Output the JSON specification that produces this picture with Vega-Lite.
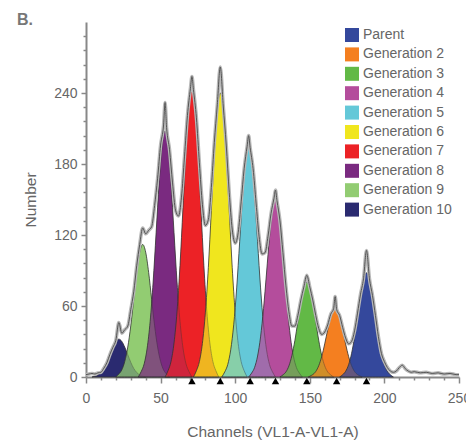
{
"$schema":"https://vega.github.io/schema/vega-lite/v6.json",
"width":373,"height":355,
"autosize":{"type":"none"},
"padding":{"left":86,"top":22,"right":7,"bottom":67},
"background":"white",
"title":{"text":"B.","anchor":"start","frame":"group","dx":-69,"offset":-19,"baseline":"alphabetic","fontSize":16,"fontWeight":"bold","color":"#777","font":"Liberation Sans"},
"datasets":{
"peaks":[
{"gen":"Generation 10","x":4,"y":0},{"gen":"Generation 10","x":6,"y":0.7},{"gen":"Generation 10","x":8,"y":1.7},{"gen":"Generation 10","x":10,"y":3.8},{"gen":"Generation 10","x":12,"y":7.2},{"gen":"Generation 10","x":14,"y":12.4},{"gen":"Generation 10","x":16,"y":18.8},{"gen":"Generation 10","x":18,"y":25.2},{"gen":"Generation 10","x":20,"y":30.1},{"gen":"Generation 10","x":22,"y":32},{"gen":"Generation 10","x":24,"y":30.1},{"gen":"Generation 10","x":26,"y":25.2},{"gen":"Generation 10","x":28,"y":18.8},{"gen":"Generation 10","x":30,"y":12.4},{"gen":"Generation 10","x":32,"y":7.2},{"gen":"Generation 10","x":34,"y":3.8},{"gen":"Generation 10","x":36,"y":1.7},{"gen":"Generation 10","x":38,"y":0.7},{"gen":"Generation 10","x":40,"y":0},
{"gen":"Generation 9","x":20,"y":0},{"gen":"Generation 9","x":22,"y":2.5},{"gen":"Generation 9","x":24,"y":6},{"gen":"Generation 9","x":26,"y":13.2},{"gen":"Generation 9","x":28,"y":25.3},{"gen":"Generation 9","x":30,"y":43.2},{"gen":"Generation 9","x":32,"y":65.6},{"gen":"Generation 9","x":34,"y":88.3},{"gen":"Generation 9","x":36,"y":105.5},{"gen":"Generation 9","x":38,"y":112},{"gen":"Generation 9","x":40,"y":105.5},{"gen":"Generation 9","x":42,"y":88.3},{"gen":"Generation 9","x":44,"y":65.6},{"gen":"Generation 9","x":46,"y":43.2},{"gen":"Generation 9","x":48,"y":25.3},{"gen":"Generation 9","x":50,"y":13.2},{"gen":"Generation 9","x":52,"y":6},{"gen":"Generation 9","x":54,"y":2.5},{"gen":"Generation 9","x":56,"y":0},
{"gen":"Generation 8","x":35,"y":0},{"gen":"Generation 8","x":37,"y":4.6},{"gen":"Generation 8","x":39,"y":11.2},{"gen":"Generation 8","x":41,"y":24.5},{"gen":"Generation 8","x":43,"y":47},{"gen":"Generation 8","x":45,"y":80.3},{"gen":"Generation 8","x":47,"y":121.9},{"gen":"Generation 8","x":49,"y":163.9},{"gen":"Generation 8","x":51,"y":195.9},{"gen":"Generation 8","x":53,"y":208},{"gen":"Generation 8","x":55,"y":195.9},{"gen":"Generation 8","x":57,"y":163.9},{"gen":"Generation 8","x":59,"y":121.9},{"gen":"Generation 8","x":61,"y":80.3},{"gen":"Generation 8","x":63,"y":47},{"gen":"Generation 8","x":65,"y":24.5},{"gen":"Generation 8","x":67,"y":11.2},{"gen":"Generation 8","x":69,"y":4.6},{"gen":"Generation 8","x":71,"y":0},
{"gen":"Generation 7","x":53,"y":0},{"gen":"Generation 7","x":55,"y":5.4},{"gen":"Generation 7","x":57,"y":13.2},{"gen":"Generation 7","x":59,"y":28.8},{"gen":"Generation 7","x":61,"y":55.1},{"gen":"Generation 7","x":63,"y":94.2},{"gen":"Generation 7","x":65,"y":143},{"gen":"Generation 7","x":67,"y":192.3},{"gen":"Generation 7","x":69,"y":229.8},{"gen":"Generation 7","x":71,"y":244},{"gen":"Generation 7","x":73,"y":229.8},{"gen":"Generation 7","x":75,"y":192.3},{"gen":"Generation 7","x":77,"y":143},{"gen":"Generation 7","x":79,"y":94.2},{"gen":"Generation 7","x":81,"y":55.1},{"gen":"Generation 7","x":83,"y":28.8},{"gen":"Generation 7","x":85,"y":13.2},{"gen":"Generation 7","x":87,"y":5.4},{"gen":"Generation 7","x":89,"y":0},
{"gen":"Generation 6","x":72,"y":0},{"gen":"Generation 6","x":74,"y":5.3},{"gen":"Generation 6","x":76,"y":13},{"gen":"Generation 6","x":78,"y":28.3},{"gen":"Generation 6","x":80,"y":54.2},{"gen":"Generation 6","x":82,"y":92.6},{"gen":"Generation 6","x":84,"y":140.6},{"gen":"Generation 6","x":86,"y":189.1},{"gen":"Generation 6","x":88,"y":226.1},{"gen":"Generation 6","x":90,"y":240},{"gen":"Generation 6","x":92,"y":226.1},{"gen":"Generation 6","x":94,"y":189.1},{"gen":"Generation 6","x":96,"y":140.6},{"gen":"Generation 6","x":98,"y":92.6},{"gen":"Generation 6","x":100,"y":54.2},{"gen":"Generation 6","x":102,"y":28.3},{"gen":"Generation 6","x":104,"y":13},{"gen":"Generation 6","x":106,"y":5.3},{"gen":"Generation 6","x":108,"y":0},
{"gen":"Generation 5","x":91,"y":0},{"gen":"Generation 5","x":93,"y":4.3},{"gen":"Generation 5","x":95,"y":10.5},{"gen":"Generation 5","x":97,"y":23},{"gen":"Generation 5","x":99,"y":44.1},{"gen":"Generation 5","x":101,"y":75.3},{"gen":"Generation 5","x":103,"y":114.3},{"gen":"Generation 5","x":105,"y":153.7},{"gen":"Generation 5","x":107,"y":183.7},{"gen":"Generation 5","x":109,"y":195},{"gen":"Generation 5","x":111,"y":183.7},{"gen":"Generation 5","x":113,"y":153.7},{"gen":"Generation 5","x":115,"y":114.3},{"gen":"Generation 5","x":117,"y":75.3},{"gen":"Generation 5","x":119,"y":44.1},{"gen":"Generation 5","x":121,"y":23},{"gen":"Generation 5","x":123,"y":10.5},{"gen":"Generation 5","x":125,"y":4.3},{"gen":"Generation 5","x":127,"y":0},
{"gen":"Generation 4","x":109,"y":0},{"gen":"Generation 4","x":111,"y":3.3},{"gen":"Generation 4","x":113,"y":8.1},{"gen":"Generation 4","x":115,"y":17.7},{"gen":"Generation 4","x":117,"y":33.9},{"gen":"Generation 4","x":119,"y":57.9},{"gen":"Generation 4","x":121,"y":87.9},{"gen":"Generation 4","x":123,"y":118.2},{"gen":"Generation 4","x":125,"y":141.3},{"gen":"Generation 4","x":127,"y":150},{"gen":"Generation 4","x":129,"y":141.3},{"gen":"Generation 4","x":131,"y":118.2},{"gen":"Generation 4","x":133,"y":87.9},{"gen":"Generation 4","x":135,"y":57.9},{"gen":"Generation 4","x":137,"y":33.9},{"gen":"Generation 4","x":139,"y":17.7},{"gen":"Generation 4","x":141,"y":8.1},{"gen":"Generation 4","x":143,"y":3.3},{"gen":"Generation 4","x":145,"y":0},
{"gen":"Generation 3","x":130,"y":0},{"gen":"Generation 3","x":132,"y":1.8},{"gen":"Generation 3","x":134,"y":4.3},{"gen":"Generation 3","x":136,"y":9.4},{"gen":"Generation 3","x":138,"y":18.1},{"gen":"Generation 3","x":140,"y":30.9},{"gen":"Generation 3","x":142,"y":46.9},{"gen":"Generation 3","x":144,"y":63},{"gen":"Generation 3","x":146,"y":75.4},{"gen":"Generation 3","x":148,"y":80},{"gen":"Generation 3","x":150,"y":75.4},{"gen":"Generation 3","x":152,"y":63},{"gen":"Generation 3","x":154,"y":46.9},{"gen":"Generation 3","x":156,"y":30.9},{"gen":"Generation 3","x":158,"y":18.1},{"gen":"Generation 3","x":160,"y":9.4},{"gen":"Generation 3","x":162,"y":4.3},{"gen":"Generation 3","x":164,"y":1.8},{"gen":"Generation 3","x":166,"y":0},
{"gen":"Generation 2","x":149,"y":0},{"gen":"Generation 2","x":151,"y":1.3},{"gen":"Generation 2","x":153,"y":3.1},{"gen":"Generation 2","x":155,"y":6.8},{"gen":"Generation 2","x":157,"y":13.1},{"gen":"Generation 2","x":159,"y":22.4},{"gen":"Generation 2","x":161,"y":34},{"gen":"Generation 2","x":163,"y":45.7},{"gen":"Generation 2","x":165,"y":54.6},{"gen":"Generation 2","x":167,"y":58},{"gen":"Generation 2","x":169,"y":54.6},{"gen":"Generation 2","x":171,"y":45.7},{"gen":"Generation 2","x":173,"y":34},{"gen":"Generation 2","x":175,"y":22.4},{"gen":"Generation 2","x":177,"y":13.1},{"gen":"Generation 2","x":179,"y":6.8},{"gen":"Generation 2","x":181,"y":3.1},{"gen":"Generation 2","x":183,"y":1.3},{"gen":"Generation 2","x":185,"y":0},
{"gen":"Parent","x":170,"y":0},{"gen":"Parent","x":172,"y":1.9},{"gen":"Parent","x":174,"y":4.8},{"gen":"Parent","x":176,"y":10.4},{"gen":"Parent","x":178,"y":19.9},{"gen":"Parent","x":180,"y":34},{"gen":"Parent","x":182,"y":51.6},{"gen":"Parent","x":184,"y":69.3},{"gen":"Parent","x":186,"y":82.9},{"gen":"Parent","x":188,"y":88},{"gen":"Parent","x":190,"y":82.9},{"gen":"Parent","x":192,"y":69.3},{"gen":"Parent","x":194,"y":51.6},{"gen":"Parent","x":196,"y":34},{"gen":"Parent","x":198,"y":19.9},{"gen":"Parent","x":200,"y":10.4},{"gen":"Parent","x":202,"y":4.8},{"gen":"Parent","x":204,"y":1.9},{"gen":"Parent","x":206,"y":0}
],
"total":[
{"x":0,"y":2},{"x":2,"y":2.5},{"x":4,"y":3},{"x":6,"y":2.5},{"x":8,"y":3.5},{"x":10,"y":4},{"x":12,"y":7.5},{"x":14,"y":12},{"x":16,"y":19},{"x":18,"y":25},{"x":20,"y":31},{"x":22,"y":46},{"x":24,"y":37},{"x":26,"y":40},{"x":28,"y":43},{"x":30,"y":57},{"x":32,"y":72},{"x":34,"y":94},{"x":36,"y":112},{"x":38,"y":126},{"x":40,"y":121},{"x":42,"y":124},{"x":44,"y":127},{"x":46,"y":145},{"x":48,"y":168},{"x":50,"y":196},{"x":52,"y":213},{"x":53,"y":232},{"x":54,"y":211},{"x":56,"y":192},{"x":58,"y":164},{"x":60,"y":141},{"x":62,"y":136},{"x":64,"y":152},{"x":66,"y":186},{"x":68,"y":221},{"x":70,"y":244},{"x":71,"y":254},{"x":72,"y":243},{"x":74,"y":219},{"x":76,"y":181},{"x":78,"y":146},{"x":80,"y":128},{"x":82,"y":133},{"x":84,"y":160},{"x":86,"y":198},{"x":88,"y":230},{"x":90,"y":262},{"x":92,"y":229},{"x":94,"y":196},{"x":96,"y":156},{"x":98,"y":125},{"x":100,"y":113},{"x":102,"y":122},{"x":104,"y":148},{"x":106,"y":176},{"x":108,"y":195},{"x":109,"y":204},{"x":110,"y":194},{"x":112,"y":176},{"x":114,"y":147},{"x":116,"y":119},{"x":118,"y":104},{"x":120,"y":105},{"x":122,"y":119},{"x":124,"y":138},{"x":126,"y":151},{"x":127,"y":158},{"x":128,"y":149},{"x":130,"y":132},{"x":132,"y":105},{"x":134,"y":77},{"x":136,"y":55},{"x":138,"y":43},{"x":140,"y":43},{"x":142,"y":52},{"x":144,"y":65},{"x":146,"y":76},{"x":148,"y":86},{"x":150,"y":76},{"x":152,"y":65},{"x":154,"y":52},{"x":156,"y":41},{"x":158,"y":36},{"x":160,"y":38},{"x":162,"y":44},{"x":164,"y":53},{"x":166,"y":58},{"x":167,"y":68},{"x":168,"y":57},{"x":170,"y":52},{"x":172,"y":42},{"x":174,"y":33},{"x":176,"y":28},{"x":178,"y":30},{"x":180,"y":39},{"x":182,"y":54},{"x":184,"y":70},{"x":186,"y":83},{"x":188,"y":107},{"x":190,"y":83},{"x":192,"y":69},{"x":194,"y":52},{"x":196,"y":34},{"x":198,"y":20},{"x":200,"y":13},{"x":202,"y":8},{"x":204,"y":5},{"x":206,"y":4},{"x":208,"y":5},{"x":210,"y":8},{"x":212,"y":10},{"x":214,"y":7},{"x":216,"y":5},{"x":218,"y":4},{"x":220,"y":4.5},{"x":224,"y":3.5},{"x":228,"y":4},{"x":232,"y":3},{"x":236,"y":3.5},{"x":240,"y":2.5},{"x":244,"y":3},{"x":248,"y":2},{"x":250,"y":2}
],
"markers":[{"x":71},{"x":90},{"x":110},{"x":127},{"x":148},{"x":168},{"x":188}]
},
"resolve":{"axis":{"x":"independent","y":"independent"}},
"layer":[
{"data":{"name":"peaks"},
 "mark":{"type":"area","interpolate":"monotone"},
 "encoding":{
  "x":{"field":"x","type":"quantitative","scale":{"domain":[0,250],"nice":false},
   "axis":{"orient":"bottom","title":"Channels (VL1-A-VL1-A)","values":[0,50,100,150,200,250],"tickSize":6,"labelPadding":8,"titlePadding":19,"labelFlush":false}},
  "y":{"field":"y","type":"quantitative","stack":null,"scale":{"domain":[0,300],"nice":false},
   "axis":{"orient":"left","title":"Number","values":[0,60,120,180,240],"tickSize":5,"labelPadding":4,"titlePadding":15,"labelFlush":false}},
  "color":{"field":"gen","type":"nominal",
   "scale":{"domain":["Parent","Generation 2","Generation 3","Generation 4","Generation 5","Generation 6","Generation 7","Generation 8","Generation 9","Generation 10"],
    "range":["#34489c","#f47f20","#62b946","#b44d9c","#64c8d8","#f0e61e","#ec2226","#7a2a80","#92cc72","#2a2a70"]},
   "legend":{"title":null}}
 }},
{"data":{"name":"peaks"},
 "mark":{"type":"area","interpolate":"monotone","fillOpacity":0.5,"stroke":"#333","strokeWidth":0.8},
 "encoding":{
  "x":{"field":"x","type":"quantitative",
   "axis":{"orient":"bottom","values":[10,20,30,40,60,70,80,90,110,120,130,140,160,170,180,190,210,220,230,240],"labels":false,"tickSize":3,"title":null,"domain":false}},
  "y":{"field":"y","type":"quantitative","stack":null,
   "axis":{"orient":"left","values":[12,24,36,48,72,84,96,108,132,144,156,168,192,204,216,228,252,264,276,288],"labels":false,"tickSize":3,"title":null,"domain":false}},
  "color":{"field":"gen","type":"nominal"}
 }},
{"data":{"name":"total"},
 "mark":{"type":"line","interpolate":"monotone","color":"#b8b8b8","strokeWidth":3.5},
 "encoding":{"x":{"field":"x","type":"quantitative","axis":null},"y":{"field":"y","type":"quantitative","axis":null}}},
{"data":{"name":"total"},
 "mark":{"type":"line","interpolate":"monotone","color":"#555","strokeWidth":1},
 "encoding":{"x":{"field":"x","type":"quantitative","axis":null},"y":{"field":"y","type":"quantitative","axis":null}}},
{"data":{"name":"markers"},
 "mark":{"type":"point","shape":"triangle-up","filled":true,"color":"#000","opacity":1,"size":55,"yOffset":4,"clip":false},
 "encoding":{"x":{"field":"x","type":"quantitative","axis":null},"y":{"datum":0,"type":"quantitative","axis":null}}}
],
"config":{
 "view":{"stroke":null},
 "axis":{"grid":false,"labelOverlap":false,"labelFlush":false,"domainColor":"#888","domainWidth":2,"tickColor":"#888","tickWidth":1.5,"labelColor":"#666","labelFont":"Liberation Sans","labelFontSize":14,"titleColor":"#666","titleFont":"Liberation Sans","titleFontSize":15.5,"titleFontWeight":"normal"},
 "legend":{"orient":"none","legendX":259,"legendY":6,"symbolType":"square","symbolSize":196,"symbolStrokeWidth":0,"symbolOpacity":1,"labelFontSize":14,"labelColor":"#666","labelFont":"Liberation Sans","rowPadding":5.4,"labelOffset":4,"padding":0}
}
}
